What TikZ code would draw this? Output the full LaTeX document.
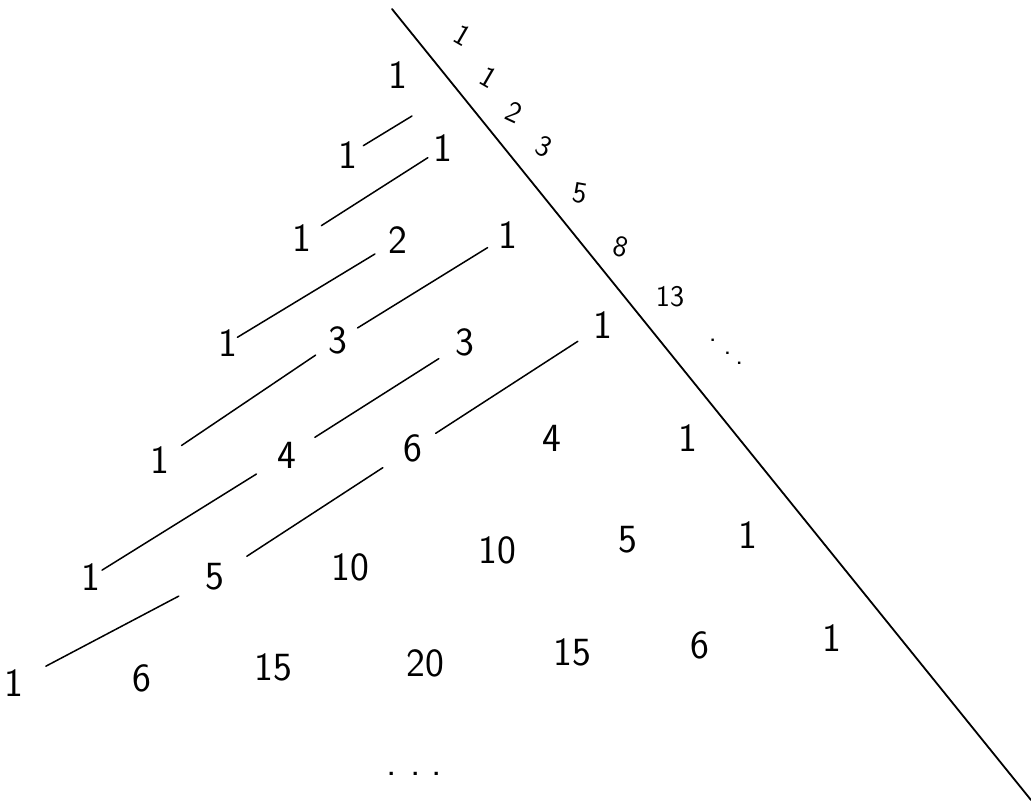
\documentclass[tikz,border=0pt]{standalone}
\begin{document}
\begin{tikzpicture}[x=1pt,y=-1pt,
  num/.style={font=\fontsize{40}{40}\selectfont\sffamily, inner sep=0pt},
  fib/.style={font=\fontsize{30}{30}\selectfont\sffamily, inner sep=0pt},
  diag/.style={line width=1.5pt, line cap=round},
  edge/.style={line width=1.8pt, line cap=round}]
\useasboundingbox (0,0) rectangle (1031,804);
\fill[white] (0,0) rectangle (1031,804);

% Pascal triangle
\node[num] (r0c0) at (398,75) {1};
\node[num] (r1c0) at (348,155) {1};
\node[num] (r1c1) at (443,148) {1};
\node[num] (r2c0) at (302,238) {1};
\node[num] (r2c1) at (398,240) {2};
\node[num] (r2c2) at (508,235) {1};
\node[num] (r3c0) at (228,343) {1};
\node[num] (r3c1) at (338,340) {3};
\node[num] (r3c2) at (465,342) {3};
\node[num] (r3c3) at (603,325) {1};
\node[num] (r4c0) at (160,460) {1};
\node[num] (r4c1) at (287,455) {4};
\node[num] (r4c2) at (413,448) {6};
\node[num] (r4c3) at (552,438) {4};
\node[num] (r4c4) at (688,438) {1};
\node[num] (r5c0) at (91,577) {1};
\node[num] (r5c1) at (215,577) {5};
\node[num] (r5c2) at (350,567) {10};
\node[num] (r5c3) at (497,550) {10};
\node[num] (r5c4) at (628,540) {5};
\node[num] (r5c5) at (748,535) {1};
\node[num] (r6c0) at (14,683) {1};
\node[num] (r6c1) at (142,678) {6};
\node[num] (r6c2) at (273,667) {15};
\node[num] (r6c3) at (425,663) {20};
\node[num] (r6c4) at (572,652) {15};
\node[num] (r6c5) at (700,645) {6};
\node[num] (r6c6) at (832,638) {1};
\node[num] (more) at (414,774) {.\hspace{14pt}.\hspace{10pt}.};

% shallow diagonals
\coordinate (d1end) at (412,116);
\draw[diag, shorten <=18pt] (r1c0.center) -- (d1end);
\draw[diag, shorten <=23pt, shorten >=18pt] (r2c0.center) -- (r1c1.center);
\draw[diag, shorten <=11pt, shorten >=27pt] (r3c0.center) -- (r2c1.center);
\draw[diag, shorten <=26pt, shorten >=27pt] (r4c0.center) -- (r3c1.center);
\draw[diag, shorten <=23pt, shorten >=24pt] (r3c1.center) -- (r2c2.center);
\draw[diag, shorten <=13pt, shorten >=36pt] (r5c0.center) -- (r4c1.center);
\draw[diag, shorten <=33pt, shorten >=31pt] (r4c1.center) -- (r3c2.center);
\draw[diag, shorten <=36pt, shorten >=41pt] (r6c0.center) -- (r5c1.center);
\draw[diag, shorten <=38pt, shorten >=36pt] (r5c1.center) -- (r4c2.center);
\draw[diag, shorten <=27pt, shorten >=30pt] (r4c2.center) -- (r3c3.center);

% boundary line and diagonal sums
\coordinate (ltop) at (392,9);
\coordinate (lbot) at (1031,800);
\draw[edge] (ltop) -- (lbot);
\node[fib, rotate=-30] (f1) at (463,35) {1};
\node[fib, rotate=-30] (f2) at (489,77) {1};
\node[fib, rotate=-25] (f3) at (514,112) {2};
\node[fib, rotate=-25] (f4) at (544,147) {3};
\node[fib, rotate=-10] (f5) at (580,193) {5};
\node[fib, rotate=-15] (f6) at (621,247) {8};
\node[fib] (f7) at (670,297) {13};
\node[fib] (fdots) at (726,352) {.\hspace{7pt}\raisebox{-13pt}{.}\hspace{4pt}\raisebox{-23pt}{.}};
\end{tikzpicture}
\end{document}
